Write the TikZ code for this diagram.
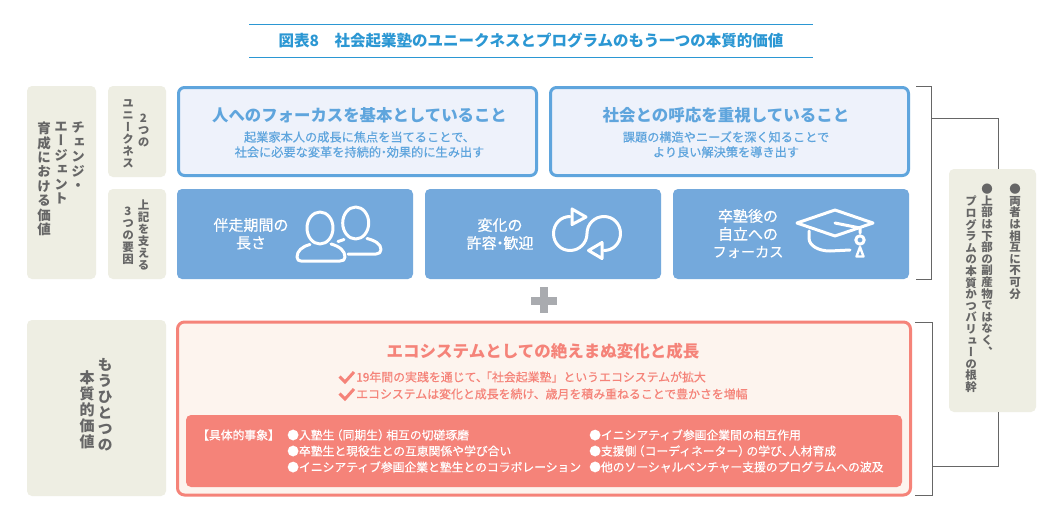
\documentclass[tikz,border=0pt]{standalone}
\usepackage{fontspec}
\setmainfont{Noto Sans CJK JP}
\newfontfamily\vjp[RawFeature=+vert]{Noto Sans CJK JP}
\newfontfamily\medjp[FakeBold=0.55]{Noto Sans CJK JP}
\definecolor{beige}{HTML}{EEEEE3}
\definecolor{ink}{HTML}{666666}
\definecolor{titleblue}{HTML}{2B97D3}
\definecolor{skyline}{HTML}{5FA5DD}
\definecolor{skyfill}{HTML}{EEF2FB}
\definecolor{skysolid}{HTML}{74A9DC}
\definecolor{coral}{HTML}{F58379}
\definecolor{coralfill}{HTML}{FDF4EE}
\definecolor{plusgray}{HTML}{A9ABAF}
\makeatletter
\newcommand\vstack[2]{\vbox{\baselineskip=#1pt\lineskiplimit=-100pt\@tfor\vch:=#2\do{\hbox to 1em{\hss\vch\hss}}}}
\makeatother
\newcommand\fs[1]{\fontsize{#1}{#1}\selectfont}
\newcommand\ndot{\kern-.27em・\kern-.27em}
\newcommand\lpar{\kern-.3em（}
\newcommand\rpar{）\kern-.3em}
\newcommand\ncomma{、\kern-.4em}
\newcommand\lkag{\kern-.25em「}
\tikzset{
  panel/.style={anchor=north west,inner sep=0pt,outer sep=0pt,rounded corners=5pt},
  beigebox/.style={panel,fill=beige},
  skybox/.style={panel,fill=skyfill,draw=skyline,line width=3pt,rounded corners=6pt},
  solidbox/.style={panel,fill=skysolid},
  vcol/.style={anchor=north,inner sep=0pt,text=ink,font=\vjp\bfseries},
  tline/.style={inner sep=0pt,align=center},
  subline/.style={tline,text=skyline,font=\fs{12.2}\medjp},
  whead/.style={tline,text=white,font=\fs{15}\medjp},
  cline/.style={tline,anchor=west,text=coral,font=\fs{11.9}\medjp},
  dline/.style={tline,anchor=west,text=white,font=\fs{11.8}\medjp},
  iconw/.style={draw=white,line width=3pt,line cap=round,line join=round},
  bracket/.style={draw=ink,line width=0.9pt},
  checkm/.style={draw=coral,line width=3pt,line join=miter}
}
\begin{document}
\begin{tikzpicture}[x=1pt,y=-1pt]
\useasboundingbox (0,0) rectangle (1050,525);
\fill[white] (0,0) rectangle (1050,525);
% title
\coordinate (tl1) at (249,24); \coordinate (tr1) at (813,24);
\coordinate (tl2) at (249,57); \coordinate (tr2) at (813,57);
\draw[titleblue,line width=0.9pt] (tl1) -- (tr1);
\draw[titleblue,line width=0.9pt] (tl2) -- (tr2);
\node[tline,text=titleblue,font=\fs{15.5}\bfseries] (title) at (531,41) {図表8　社会起業塾のユニークネスとプログラムのもう一つの本質的価値};
% left labels
\node[beigebox,minimum width=69pt,minimum height=193pt] (lefttop) at (27,86) {};
\node[beigebox,minimum width=58pt,minimum height=91pt] (unique) at (108,86) {};
\node[beigebox,minimum width=58pt,minimum height=90pt] (factor) at (108,189) {};
\node[beigebox,minimum width=139pt,minimum height=176pt] (leftbot) at (27,320) {};
\node[vcol] (lt1) at (78,122) {\fs{13.5}\vstack{14.4}{チェンジ・}};
\node[vcol] (lt2) at (61,122) {\fs{13.5}\vstack{14.4}{エージェント}};
\node[vcol] (lt3) at (44,122) {\fs{13.5}\vstack{14.4}{育成における価値}};
\node[vcol] (u1) at (143.5,114) {\fs{11.5}\vstack{12}{2つの}};
\node[vcol] (u2) at (128,99) {\fs{11.5}\vstack{12}{ユニークネス}};
\node[vcol] (f1) at (143.5,200) {\fs{11.5}\vstack{12}{上記を支える}};
\node[vcol] (f2) at (128,207) {\fs{11.5}\vstack{12}{3つの要因}};
\node[vcol] (lb1) at (105,358) {\fs{15}\vstack{16}{もうひとつの}};
\node[vcol] (lb2) at (87,370) {\fs{15}\vstack{16}{本質的価値}};
% top outlined boxes
\node[skybox,minimum width=358pt,minimum height=88pt] (focus) at (178.5,87.5) {};
\node[skybox,minimum width=358pt,minimum height=88pt] (resp) at (550.5,87.5) {};
\node[tline,text=skyline,font=\fs{16.4}\bfseries] (focusH) at (359.5,115) {人へのフォーカスを基本としていること};
\node[subline] (focusA) at (359.5,137) {起業家本人の成長に焦点を当てることで、};
\node[subline] (focusB) at (359.5,152) {社会に必要な変革を持続的\ndot 効果的に生み出す};
\node[tline,text=skyline,font=\fs{16.5}\bfseries] (respH) at (726,115) {社会との呼応を重視していること};
\node[subline] (respA) at (726,137) {課題の構造やニーズを深く知ることで};
\node[subline] (respB) at (726,152) {より良い解決策を導き出す};
% solid boxes
\node[solidbox,minimum width=236pt,minimum height=90pt] (s1) at (177,189) {};
\node[solidbox,minimum width=236pt,minimum height=90pt] (s2) at (425,189) {};
\node[solidbox,minimum width=236pt,minimum height=90pt] (s3) at (673,189) {};
\node[whead] (s1a) at (251,225) {伴走期間の};
\node[whead] (s1b) at (251,243) {長さ};
\node[whead] (s2a) at (500,225) {変化の};
\node[whead] (s2b) at (500,243) {許容\ndot 歓迎};
\node[whead] (s3a) at (748,216) {卒塾後の};
\node[whead] (s3b) at (748,234) {自立への};
\node[whead,font=\fs{14.2}\medjp] (s3c) at (748,252) {フォーカス};
% people icon
\draw[iconw] (320,228) ellipse (13 and 16);
\draw[iconw] (355.7,223) ellipse (13 and 16);
\draw[iconw] (310,244.5) .. controls (302,246.5) and (297,251) .. (297,257) .. controls (297,260) and (299,261) .. (301,261) -- (340,261) .. controls (343,261) and (345,260) .. (345,257) .. controls (345,251) and (340,246.5) .. (331,244);
\draw[iconw] (338,241.5) -- (344,239.5);
\draw[iconw] (348,254) -- (376,254) .. controls (379,254) and (381,252.5) .. (381,249.5) .. controls (381,244) and (375,240.5) .. (367,238.5);
% cycle icon
\draw[iconw] (570,216.5) .. controls (560.6,216.5) and (553.5,224) .. (553.5,233.5) .. controls (553.5,243) and (560.6,250.5) .. (570,250.5) .. controls (579.4,250.5) and (587,243) .. (587,233.5) .. controls (587,224) and (594.6,216.5) .. (604,216.5) .. controls (613.4,216.5) and (620.5,224) .. (620.5,233.5) .. controls (620.5,243) and (613.4,250.5) .. (604,250.5);
\draw[iconw] (572,209) -- (586,217) -- (572,224.5) -- cycle;
\draw[iconw] (602,242.5) -- (588.5,250.5) -- (602,258.5) -- cycle;
% cap icon
\draw[iconw] (797,223) -- (835,210) -- (873,223) -- (835,236) -- cycle;
\draw[iconw] (809,231) -- (809,238) .. controls (809,246) and (819,251) .. (830,251) -- (850,250);
\draw[iconw] (835,223) -- (860,228) -- (860,233);
\draw[iconw] (860,240) circle (4.2);
\draw[iconw,line width=2.4pt] (860,247) -- (856.5,256.5) -- (863.5,256.5) -- cycle;
% plus
\fill[plusgray] (530.5,297) rectangle (557,304.5);
\fill[plusgray] (540,287) rectangle (547.5,313);
% coral box
\node[panel,fill=coralfill,draw=coral,line width=3pt,rounded corners=7pt,minimum width=733pt,minimum height=173pt] (eco) at (177.5,322) {};
\node[tline,text=coral,font=\fs{16.5}\bfseries] (ecoH) at (543,351) {エコシステムとしての絶えまぬ変化と成長};
\draw[checkm] (339.5,376.5) -- (345,382) -- (354,372);
\draw[checkm] (339.5,393.5) -- (345,399) -- (354,389);
\node[cline] (ecoA) at (356,377) {19年間の実践を通じて\ncomma\lkag 社会起業塾」というエコシステムが拡大};
\node[cline] (ecoB) at (356,394) {エコシステムは変化と成長を続け、歳月を積み重ねることで豊かさを増幅};
\node[panel,fill=coral,minimum width=716pt,minimum height=72pt] (detail) at (186,415) {};
\node[dline] (dh) at (197,435) {【具体的事象】};
\node[dline] (d1) at (287,435) {●入塾生\lpar 同期生\rpar 相互の切磋琢磨};
\node[dline] (d2) at (287,451) {●卒塾生と現役生との互恵関係や学び合い};
\node[dline] (d3) at (287,467) {●イニシアティブ参画企業と塾生とのコラボレーション};
\node[dline] (d4) at (589,435) {●イニシアティブ参画企業間の相互作用};
\node[dline] (d5) at (589,451) {●支援側\lpar コーディネーター\rpar の学び\ncomma 人材育成};
\node[dline] (d6) at (589,467) {●他のソーシャルベンチャー支援のプログラムへの波及};
% right box
\node[beigebox,minimum width=87pt,minimum height=243pt] (note) at (949,169) {};
\node[vcol] (n1) at (1015,184) {\fs{11.5}\vstack{11.6}{●両者は相互に不可分}};
\node[vcol] (n2) at (987,184) {\fs{11.5}\vstack{11.6}{●上部は下部の副産物ではなく、}};
\node[vcol] (n3) at (971,196) {\fs{11.5}\vstack{11.6}{プログラムの本質かつバリューの根幹}};
% brackets
\coordinate (bt1) at (916,86); \coordinate (bt2) at (931,86); \coordinate (bt3) at (931,279); \coordinate (bt4) at (916,279);
\coordinate (bb1) at (915,322); \coordinate (bb2) at (932,322); \coordinate (bb3) at (932,495); \coordinate (bb4) at (915,495);
\coordinate (jt) at (931,118); \coordinate (jb) at (932,466);
\coordinate (nt) at (998,169); \coordinate (nb) at (998,412);
\draw[bracket] (bt1) -- (bt2) -- (bt3) -- (bt4);
\draw[bracket] (bb1) -- (bb2) -- (bb3) -- (bb4);
\draw[bracket] (jt) -| (nt);
\draw[bracket] (jb) -| (nb);
\end{tikzpicture}
\end{document}
